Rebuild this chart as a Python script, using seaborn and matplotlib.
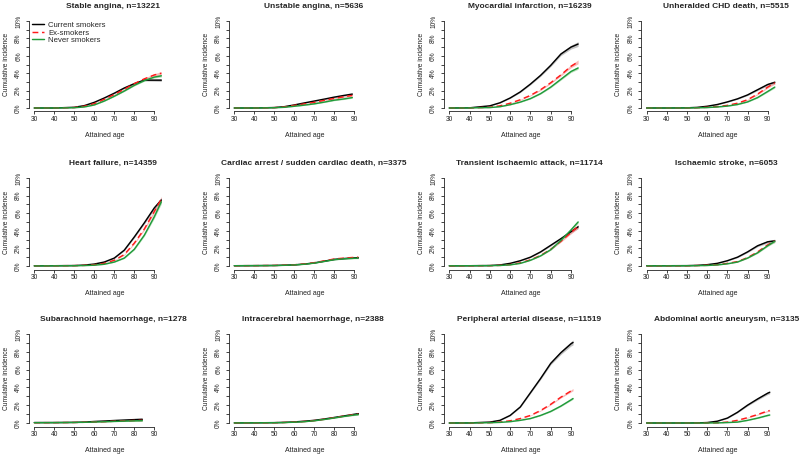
import seaborn as sns
import matplotlib.pyplot as plt

titles = ["Stable angina, n=13221", "Unstable angina, n=5636",
          "Myocardial infarction, n=16239", "Unheralded CHD death, n=5515",
          "Heart failure, n=14359", "Cardiac arrest / sudden cardiac death, n=3375",
          "Transient ischaemic attack, n=11714", "Ischaemic stroke, n=6053",
          "Subarachnoid haemorrhage, n=1278", "Intracerebral haemorrhage, n=2388",
          "Peripheral arterial disease, n=11519", "Abdominal aortic aneurysm, n=3135"]
groups = ["Current smokers", "Ex-smokers", "Never smokers"]

# ages at which values were read; each panel stops at its last age
age_grid = [30, 40, 50, 55, 60, 65, 70, 75, 80, 85, 90]
last_age = [93.5, 89, 93.5, 93.5, 93.5, 92, 93.5, 93.5, 84, 92, 91, 91]

# cumulative incidence (%)
cur_pct = [
    [0, 0, 0.08, 0.27, 0.65, 1.15, 1.7, 2.3, 2.8, 3.2, 3.2, 3.2],
    [0, 0, 0.05, 0.15, 0.35, 0.58, 0.8, 1.02, 1.25, 1.45, 1.6],
    [0, 0.02, 0.25, 0.6, 1.15, 1.85, 2.75, 3.75, 4.9, 6.2, 7.0, 7.35],
    [0, 0, 0.02, 0.07, 0.2, 0.4, 0.7, 1.05, 1.5, 2.1, 2.7, 2.95],
    [0.02, 0.03, 0.05, 0.1, 0.22, 0.45, 0.9, 1.8, 3.3, 4.9, 6.6, 7.5],
    [0.03, 0.04, 0.06, 0.09, 0.13, 0.22, 0.35, 0.55, 0.75, 0.85, 0.92, 0.95],
    [0.02, 0.03, 0.05, 0.12, 0.3, 0.6, 1.0, 1.6, 2.35, 3.1, 3.9, 4.45],
    [0.02, 0.03, 0.04, 0.07, 0.15, 0.3, 0.6, 1.0, 1.6, 2.3, 2.75, 2.85],
    [0.05, 0.05, 0.07, 0.1, 0.17, 0.22, 0.28, 0.33, 0.38, 0.42],
    [0.01, 0.02, 0.04, 0.07, 0.12, 0.2, 0.3, 0.45, 0.62, 0.8, 0.98, 1.05],
    [0, 0.01, 0.1, 0.3, 0.85, 1.8, 3.4, 5.0, 6.7, 7.9, 8.9, 9.05],
    [0, 0, 0, 0.01, 0.05, 0.2, 0.55, 1.2, 2.0, 2.7, 3.35, 3.45],
]
ex_pct = [
    [0, 0, 0.05, 0.2, 0.5, 1.0, 1.55, 2.15, 2.8, 3.35, 3.8, 4.0],
    [0, 0, 0.04, 0.12, 0.3, 0.47, 0.65, 0.88, 1.1, 1.3, 1.45],
    [0, 0.01, 0.08, 0.25, 0.55, 0.95, 1.45, 2.1, 2.9, 3.8, 4.8, 5.3],
    [0, 0, 0.01, 0.03, 0.08, 0.16, 0.3, 0.55, 0.95, 1.6, 2.4, 2.9],
    [0.02, 0.03, 0.04, 0.07, 0.14, 0.3, 0.65, 1.3, 2.6, 4.2, 6.2, 7.6],
    [0.03, 0.04, 0.06, 0.09, 0.14, 0.23, 0.38, 0.58, 0.8, 0.9, 0.98, 1.0],
    [0.02, 0.03, 0.04, 0.07, 0.16, 0.36, 0.7, 1.2, 1.9, 2.8, 3.8, 4.5],
    [0.02, 0.02, 0.03, 0.05, 0.08, 0.15, 0.3, 0.5, 0.95, 1.6, 2.4, 2.85],
    [0.03, 0.04, 0.06, 0.08, 0.12, 0.15, 0.2, 0.24, 0.28, 0.3],
    [0.01, 0.02, 0.03, 0.06, 0.1, 0.17, 0.27, 0.42, 0.6, 0.78, 0.95, 1.0],
    [0, 0.01, 0.04, 0.1, 0.25, 0.5, 0.85, 1.4, 2.1, 2.9, 3.6, 3.75],
    [0, 0, 0, 0, 0.01, 0.02, 0.1, 0.3, 0.6, 0.95, 1.35, 1.4],
]
nev_pct = [
    [0, 0, 0.03, 0.12, 0.35, 0.8, 1.35, 1.95, 2.6, 3.15, 3.55, 3.7],
    [0, 0, 0.03, 0.08, 0.2, 0.33, 0.48, 0.68, 0.9, 1.05, 1.2],
    [0, 0.01, 0.05, 0.15, 0.38, 0.68, 1.08, 1.65, 2.4, 3.3, 4.2, 4.6],
    [0, 0, 0.01, 0.02, 0.05, 0.12, 0.22, 0.4, 0.7, 1.2, 1.9, 2.4],
    [0.01, 0.02, 0.03, 0.05, 0.09, 0.2, 0.45, 0.9, 1.9, 3.5, 5.6, 7.3],
    [0.03, 0.04, 0.05, 0.08, 0.12, 0.2, 0.33, 0.52, 0.72, 0.82, 0.88, 0.9],
    [0.02, 0.03, 0.04, 0.06, 0.13, 0.3, 0.65, 1.15, 1.85, 2.9, 4.1, 5.0],
    [0.02, 0.02, 0.03, 0.04, 0.06, 0.12, 0.25, 0.45, 0.9, 1.5, 2.3, 2.8],
    [0.03, 0.04, 0.06, 0.08, 0.11, 0.14, 0.18, 0.21, 0.24, 0.26],
    [0.01, 0.02, 0.03, 0.05, 0.09, 0.15, 0.25, 0.4, 0.57, 0.75, 0.9, 0.95],
    [0, 0.01, 0.03, 0.07, 0.15, 0.3, 0.5, 0.85, 1.3, 1.9, 2.6, 2.75],
    [0, 0, 0, 0, 0, 0.01, 0.05, 0.1, 0.3, 0.55, 0.85, 0.9],
]

# half-width of the 95% confidence band (%)
cur_ci = [
    [0, 0, 0, 0.02, 0.03, 0.04, 0.05, 0.06, 0.07, 0.09, 0.12, 0.15],
    [0, 0, 0, 0.01, 0.02, 0.03, 0.04, 0.05, 0.06, 0.07, 0.09],
    [0, 0, 0.02, 0.03, 0.05, 0.07, 0.09, 0.11, 0.14, 0.18, 0.22, 0.28],
    [0, 0, 0, 0.01, 0.02, 0.03, 0.04, 0.05, 0.07, 0.1, 0.14, 0.2],
    [0, 0, 0, 0.01, 0.02, 0.03, 0.05, 0.07, 0.1, 0.14, 0.2, 0.28],
    [0, 0, 0, 0.01, 0.01, 0.02, 0.02, 0.03, 0.04, 0.05, 0.06, 0.07],
    [0, 0, 0, 0.01, 0.02, 0.03, 0.04, 0.06, 0.08, 0.11, 0.15, 0.2],
    [0, 0, 0, 0.01, 0.02, 0.03, 0.04, 0.06, 0.08, 0.11, 0.15, 0.2],
    [0, 0.01, 0.01, 0.02, 0.02, 0.03, 0.04, 0.05, 0.06, 0.07],
    [0, 0, 0, 0.01, 0.01, 0.02, 0.02, 0.03, 0.04, 0.05, 0.06, 0.07],
    [0, 0, 0.01, 0.02, 0.04, 0.06, 0.09, 0.12, 0.15, 0.2, 0.25, 0.28],
    [0, 0, 0, 0, 0.01, 0.02, 0.04, 0.06, 0.09, 0.12, 0.15, 0.17],
]
ex_ci = [
    [0, 0, 0, 0.02, 0.03, 0.04, 0.05, 0.07, 0.08, 0.1, 0.14, 0.18],
    [0, 0, 0, 0.01, 0.02, 0.03, 0.04, 0.05, 0.06, 0.07, 0.08],
    [0, 0, 0.01, 0.02, 0.03, 0.05, 0.06, 0.08, 0.1, 0.13, 0.17, 0.22],
    [0, 0, 0, 0.01, 0.01, 0.02, 0.03, 0.04, 0.06, 0.08, 0.12, 0.16],
    [0, 0, 0, 0.01, 0.01, 0.02, 0.04, 0.06, 0.09, 0.13, 0.2, 0.3],
    [0, 0, 0, 0.01, 0.01, 0.02, 0.02, 0.03, 0.04, 0.05, 0.06, 0.07],
    [0, 0, 0, 0.01, 0.01, 0.02, 0.03, 0.05, 0.07, 0.1, 0.15, 0.22],
    [0, 0, 0, 0, 0.01, 0.02, 0.03, 0.04, 0.06, 0.08, 0.1, 0.13],
    [0, 0, 0.01, 0.01, 0.02, 0.02, 0.03, 0.04, 0.05, 0.06],
    [0, 0, 0, 0.01, 0.01, 0.02, 0.02, 0.03, 0.04, 0.05, 0.06, 0.07],
    [0, 0, 0, 0.01, 0.02, 0.03, 0.04, 0.05, 0.07, 0.09, 0.12, 0.13],
    [0, 0, 0, 0, 0, 0.01, 0.02, 0.03, 0.04, 0.05, 0.07, 0.08],
]
nev_ci = [
    [0, 0, 0, 0.01, 0.02, 0.03, 0.04, 0.05, 0.06, 0.08, 0.1, 0.14],
    [0, 0, 0, 0.01, 0.02, 0.03, 0.04, 0.05, 0.06, 0.07, 0.08],
    [0, 0, 0.01, 0.02, 0.03, 0.04, 0.05, 0.06, 0.08, 0.1, 0.12, 0.15],
    [0, 0, 0, 0, 0.01, 0.01, 0.02, 0.03, 0.04, 0.06, 0.08, 0.1],
    [0, 0, 0, 0, 0.01, 0.02, 0.03, 0.05, 0.08, 0.12, 0.18, 0.25],
    [0, 0, 0, 0.01, 0.01, 0.02, 0.02, 0.03, 0.04, 0.05, 0.06, 0.07],
    [0, 0, 0, 0, 0.01, 0.02, 0.03, 0.04, 0.06, 0.08, 0.11, 0.15],
    [0, 0, 0, 0, 0.01, 0.01, 0.02, 0.03, 0.05, 0.07, 0.09, 0.12],
    [0, 0, 0.01, 0.01, 0.02, 0.02, 0.03, 0.04, 0.05, 0.06],
    [0, 0, 0, 0.01, 0.01, 0.02, 0.02, 0.03, 0.04, 0.05, 0.06, 0.07],
    [0, 0, 0, 0, 0.01, 0.02, 0.03, 0.04, 0.05, 0.06, 0.08, 0.09],
    [0, 0, 0, 0, 0, 0, 0.01, 0.02, 0.03, 0.04, 0.05, 0.06],
]

line_cols = ["#000000", "#ff1a1a", "#1f9a3a"]
band_cols = ["#9a9a9a", "#f58a8a", "#8fd08f"]
line_styles = ["-", (0, (4, 2.5)), "-"]

sns.set_style("ticks")
plt.rcParams["font.family"] = ["Liberation Sans", "DejaVu Sans"]

W, H = 800, 455
fig = plt.figure(figsize=(8, 4.55), dpi=100)

# pixel positions of age 30 / 90 per column and of 0% / 10% per row
col_px = [(34.3, 154.3), (234.3, 354.3), (449.3, 571.0), (646.7, 767.7)]
row_px = [(108, 21), (266, 178), (423, 334)]

for i, title in enumerate(titles):
    r, c = divmod(i, 4)
    x30, x90 = col_px[c]
    y0, y10 = row_px[r]
    sx = (x90 - x30) / 60
    sy = (y0 - y10) / 10
    left = x30 - 2.8 * sx
    top = y10 - 0.4 * sy
    ax = fig.add_axes([left / W, 1 - (top + 10.8 * sy) / H, 75.6 * sx / W, 10.8 * sy / H])

    ages = [a for a in age_grid if a < last_age[i]] + [last_age[i]]
    series = [cur_pct[i], ex_pct[i], nev_pct[i]]
    bands = [cur_ci[i], ex_ci[i], nev_ci[i]]
    for vals, ci, bc in zip(series, bands, band_cols):
        lo = [v - h for v, h in zip(vals, ci)]
        hi = [v + h for v, h in zip(vals, ci)]
        ax.fill_between(ages, lo, hi, color=bc, alpha=0.6, lw=0)
    for g, vals, lc, ls in zip(groups, series, line_cols, line_styles):
        kw = {"label": g} if i == 0 else {}
        sns.lineplot(x=ages, y=vals, ax=ax, color=lc, linestyle=ls,
                     linewidth=1.05, legend=False, **kw)

    ax.set_xlim(27.2, 102.8)
    ax.set_ylim(-0.4, 10.4)
    ax.set_xticks(range(30, 91, 10))
    ax.set_yticks(range(0, 11))
    ax.set_yticklabels([f"{t}%" if t % 2 == 0 else "" for t in range(0, 11)])
    for s in ["top", "right"]:
        ax.spines[s].set_visible(False)
    ax.spines["left"].set_bounds(0, 10)
    ax.spines["bottom"].set_bounds(30, 90)
    for s in ["left", "bottom"]:
        ax.spines[s].set_linewidth(0.6)
        ax.spines[s].set_color("#222222")
    ax.tick_params(axis="both", length=2.2, width=0.6, color="#222222",
                   labelsize=4.8, labelcolor="#222222")
    ax.tick_params(axis="x", pad=1)
    ax.tick_params(axis="y", pad=2.5)
    for lab in ax.get_yticklabels():
        lab.set_rotation(90)
        lab.set_va("center")
    ax.set_xlabel("Attained age", fontsize=5, labelpad=6.5, color="#222222")
    ax.set_ylabel("Cumulative incidence", fontsize=4.8, labelpad=4, color="#222222")
    ax.set_title(title, fontsize=6, fontweight="bold", x=0.56, pad=7)
    ax.set_facecolor("white")

    if i == 0:
        ax.legend(loc="upper left", bbox_to_anchor=(0.02, 0.955), frameon=False,
                  fontsize=5.6, handlelength=1.6, handletextpad=0.5,
                  labelspacing=0.0, borderpad=0, borderaxespad=0)

plt.savefig("out.png", dpi=100)
